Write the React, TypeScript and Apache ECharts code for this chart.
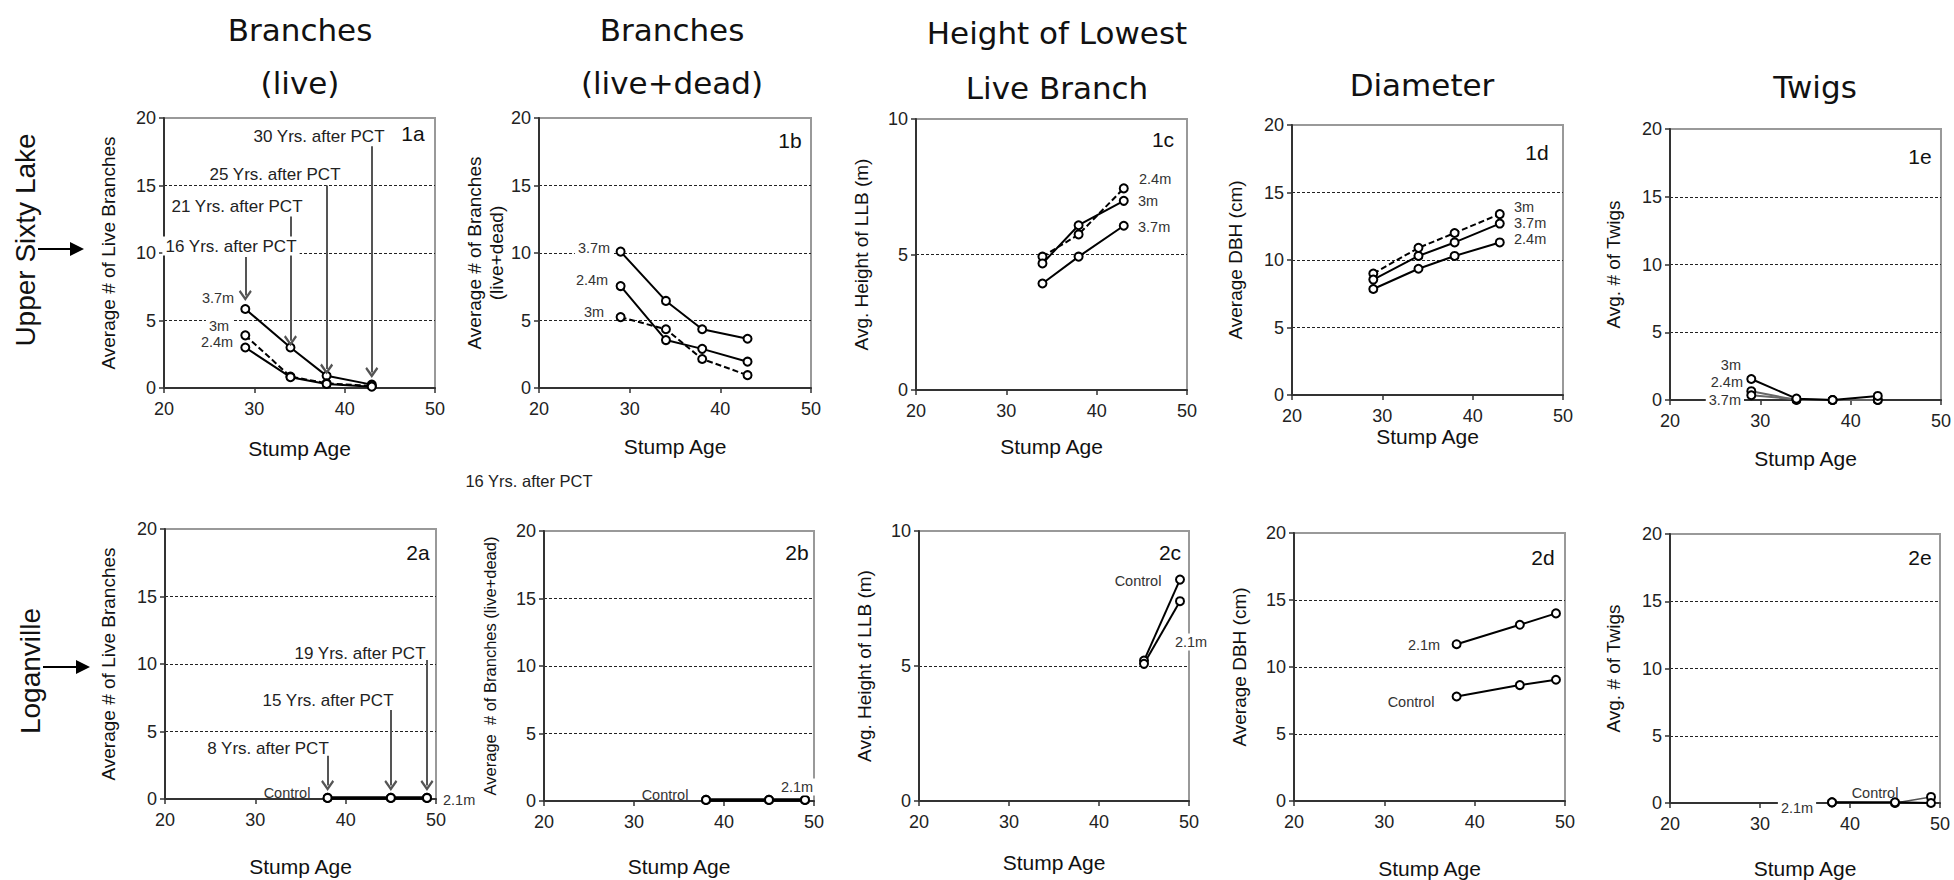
import React, { useEffect, useRef } from 'react';
import * as echarts from 'echarts';

// ---------- data ----------
const ageUSL = [29, 34, 38, 43];
const ageUSL_LLB = [34, 38, 43];
const ageLOG = [38, 45, 49];
const ageLOG_LLB = [45, 49];

const uslLive37 = [5.85, 3.0, 0.9, 0.25];
const uslLive30 = [3.9, 0.85, 0.35, 0.15];
const uslLive24 = [3.0, 0.8, 0.3, 0.1];

const uslTotal37 = [10.1, 6.45, 4.35, 3.65];
const uslTotal24 = [7.55, 3.55, 2.9, 1.95];
const uslTotal30 = [5.25, 4.35, 2.15, 0.95];

const uslLLB30 = [4.92, 5.74, 7.44];
const uslLLB24 = [4.67, 6.08, 6.98];
const uslLLB37 = [3.93, 4.92, 6.06];

const uslDBH30 = [9.0, 10.9, 12.0, 13.4];
const uslDBH37 = [8.55, 10.3, 11.3, 12.7];
const uslDBH24 = [7.85, 9.35, 10.3, 11.3];

const uslTwig30 = [1.55, 0.1, 0.0, 0.3];
const uslTwig24 = [0.65, 0.0, 0.0, 0.0];
const uslTwig37 = [0.35, 0.05, 0.0, 0.0];

const logLiveCtrl = [0.08, 0.08, 0.08];
const logLive21 = [0.08, 0.08, 0.08];
const logTotalCtrl = [0.08, 0.08, 0.08];
const logTotal21 = [0.08, 0.08, 0.08];
const logLLBCtrl = [5.2, 8.2];
const logLLB21 = [5.08, 7.4];
const logDBH21 = [11.7, 13.15, 14.0];
const logDBHCtrl = [7.8, 8.65, 9.05];
const logTwig21 = [0.05, 0.05, 0.0];
const logTwigCtrl = [0.05, 0.0, 0.45];

const pctLabelsUSL = ['16 Yrs. after PCT', '21 Yrs. after PCT', '25 Yrs. after PCT', '30 Yrs. after PCT'];
const pctTopUSL = [9.7, 12.7, 15.0, 17.9];
const pctTipUSL = [6.85, 3.5, 1.4, 1.15];
const pctLabelsLOG = ['8 Yrs. after PCT', '15 Yrs. after PCT', '19 Yrs. after PCT'];
const pctTopLOG = [3.2, 6.6, 10.3];
const pctTipLOG = [1.0, 1.0, 1.0];

const xTicks = { min: 20, max: 50, interval: 10 };

// ---------- styling ----------
const FONT = '"Liberation Sans", Arial, sans-serif';
const TFONT = '"DejaVu Sans", sans-serif';
const CHEVRON = 'path://M8,0 L16,10 L14,12 L8,4.5 L2,12 L0,10 Z';

type S = { name: string; x: number[]; y: number[]; dashed?: boolean; color?: string; width?: number };
type P = {
  grid: { left: number; top: number; width: number; height: number };
  yMax: number; yName: string; yNameGap: number; yNameSize?: number; yNameLH?: number;
  xNameGap: number; series: S[];
  arrows?: { x: number[]; top: number[]; tip: number[] };
};

const panels: P[] = [
  {
    grid: { left: 164, top: 118, width: 271, height: 270 }, yMax: 20,
    yName: 'Average # of Live Branches', yNameGap: 46, xNameGap: 50,
    series: [
      { name: '3.7m', x: ageUSL, y: uslLive37 },
      { name: '3m', x: ageUSL, y: uslLive30, dashed: true },
      { name: '2.4m', x: ageUSL, y: uslLive24 },
    ],
    arrows: { x: ageUSL, top: pctTopUSL, tip: pctTipUSL },
  },
  {
    grid: { left: 539, top: 118, width: 272, height: 270 }, yMax: 20,
    yName: 'Average # of Branches\n(live+dead)', yNameGap: 27, yNameLH: 22, xNameGap: 48,
    series: [
      { name: '3.7m', x: ageUSL, y: uslTotal37 },
      { name: '2.4m', x: ageUSL, y: uslTotal24 },
      { name: '3m', x: ageUSL, y: uslTotal30, dashed: true },
    ],
  },
  {
    grid: { left: 916, top: 119, width: 271, height: 271 }, yMax: 10,
    yName: 'Avg. Height of LLB (m)', yNameGap: 45, xNameGap: 46,
    series: [
      { name: '3m', x: ageUSL_LLB, y: uslLLB30, dashed: true },
      { name: '2.4m', x: ageUSL_LLB, y: uslLLB24 },
      { name: '3.7m', x: ageUSL_LLB, y: uslLLB37 },
    ],
  },
  {
    grid: { left: 1292, top: 125, width: 271, height: 270 }, yMax: 20,
    yName: 'Average DBH (cm)', yNameGap: 47, xNameGap: 31,
    series: [
      { name: '3m', x: ageUSL, y: uslDBH30, dashed: true },
      { name: '3.7m', x: ageUSL, y: uslDBH37 },
      { name: '2.4m', x: ageUSL, y: uslDBH24 },
    ],
  },
  {
    grid: { left: 1670, top: 129, width: 271, height: 271 }, yMax: 20,
    yName: 'Avg. # of Twigs', yNameGap: 47, xNameGap: 48,
    series: [
      { name: '2.4m', x: ageUSL, y: uslTwig24, color: '#666' },
      { name: '3.7m', x: ageUSL, y: uslTwig37, color: '#666' },
      { name: '3m', x: ageUSL, y: uslTwig30 },
    ],
  },
  {
    grid: { left: 165, top: 529, width: 271, height: 270 }, yMax: 20,
    yName: 'Average # of Live Branches', yNameGap: 47, xNameGap: 57,
    series: [
      { name: 'Control', x: ageLOG, y: logLiveCtrl, width: 3 },
      { name: '2.1m', x: ageLOG, y: logLive21, width: 3 },
    ],
    arrows: { x: ageLOG, top: pctTopLOG, tip: pctTipLOG },
  },
  {
    grid: { left: 544, top: 531, width: 270, height: 270 }, yMax: 20,
    yName: 'Average  # of Branches (live+dead)', yNameGap: 46, yNameSize: 16.5, xNameGap: 55,
    series: [
      { name: 'Control', x: ageLOG, y: logTotalCtrl, width: 3 },
      { name: '2.1m', x: ageLOG, y: logTotal21, width: 3 },
    ],
  },
  {
    grid: { left: 919, top: 531, width: 270, height: 270 }, yMax: 10,
    yName: 'Avg. Height of LLB (m)', yNameGap: 45, xNameGap: 51,
    series: [
      { name: 'Control', x: ageLOG_LLB, y: logLLBCtrl },
      { name: '2.1m', x: ageLOG_LLB, y: logLLB21 },
    ],
  },
  {
    grid: { left: 1294, top: 533, width: 271, height: 270 }, yMax: 20,
    yName: 'Average DBH (cm)', yNameGap: 45.5, xNameGap: 57,
    series: [
      { name: '2.1m', x: ageLOG, y: logDBH21 },
      { name: 'Control', x: ageLOG, y: logDBHCtrl },
    ],
  },
  {
    grid: { left: 1670, top: 534, width: 270, height: 270 }, yMax: 20,
    yName: 'Avg. # of Twigs', yNameGap: 47, xNameGap: 55,
    series: [
      { name: 'Control', x: ageLOG, y: logTwigCtrl, color: '#555', width: 1.5 },
      { name: '2.1m', x: ageLOG, y: logTwig21 },
    ],
  },
];

// ---------- text annotations ----------
type T = { t: string; x: number; y: number; size: number; align?: string; bg?: boolean; fam?: string; rot?: number; color?: string };

const texts: T[] = [
  // column titles
  { t: 'Branches', x: 300, y: 30, size: 31, fam: TFONT, color: '#111' },
  { t: '(live)', x: 300, y: 83, size: 31, fam: TFONT, color: '#111' },
  { t: 'Branches', x: 672, y: 30, size: 31, fam: TFONT, color: '#111' },
  { t: '(live+dead)', x: 672, y: 83, size: 31, fam: TFONT, color: '#111' },
  { t: 'Height of Lowest', x: 1057, y: 33, size: 31, fam: TFONT, color: '#111' },
  { t: 'Live Branch', x: 1057, y: 88, size: 31, fam: TFONT, color: '#111' },
  { t: 'Diameter', x: 1422, y: 85, size: 31, fam: TFONT, color: '#111' },
  { t: 'Twigs', x: 1815, y: 87, size: 31, fam: TFONT, color: '#111' },
  // row labels
  { t: 'Upper Sixty Lake', x: 25, y: 240, size: 28, rot: Math.PI / 2, color: '#111' },
  { t: 'Loganville', x: 30, y: 671, size: 28, rot: Math.PI / 2, color: '#111' },
  // panel ids
  { t: '1a', x: 413, y: 133, size: 21, color: '#111' },
  { t: '1b', x: 790, y: 140, size: 21, color: '#111' },
  { t: '1c', x: 1163, y: 139, size: 21, color: '#111' },
  { t: '1d', x: 1537, y: 152, size: 21, color: '#111' },
  { t: '1e', x: 1920, y: 156, size: 21, color: '#111' },
  { t: '2a', x: 418, y: 552, size: 21, color: '#111' },
  { t: '2b', x: 797, y: 552, size: 21, color: '#111' },
  { t: '2c', x: 1170, y: 552, size: 21, color: '#111' },
  { t: '2d', x: 1543, y: 557, size: 21, color: '#111' },
  { t: '2e', x: 1920, y: 557, size: 21, color: '#111' },
  // PCT annotations
  { t: pctLabelsUSL[3], x: 319, y: 136, size: 17 },
  { t: pctLabelsUSL[2], x: 275, y: 174, size: 17 },
  { t: pctLabelsUSL[1], x: 237, y: 206, size: 17 },
  { t: pctLabelsUSL[0], x: 231, y: 246, size: 17, bg: true },
  { t: pctLabelsLOG[0], x: 268, y: 748, size: 17 },
  { t: pctLabelsLOG[1], x: 328, y: 700, size: 17 },
  { t: pctLabelsLOG[2], x: 360, y: 653, size: 17 },
  { t: pctLabelsUSL[0], x: 529, y: 481, size: 16.5 },
  // series labels
  { t: '3.7m', x: 218, y: 298, size: 14.5, color: '#333' },
  { t: '3m', x: 219, y: 326, size: 14.5, color: '#333', bg: true },
  { t: '2.4m', x: 217, y: 342, size: 14.5, color: '#333' },
  { t: '3.7m', x: 594, y: 248, size: 14.5, color: '#333', bg: true },
  { t: '2.4m', x: 592, y: 280, size: 14.5, color: '#333' },
  { t: '3m', x: 594, y: 312, size: 14.5, color: '#333' },
  { t: '2.4m', x: 1139, y: 179, size: 14.5, color: '#333', align: 'left' },
  { t: '3m', x: 1138, y: 201, size: 14.5, color: '#333', align: 'left' },
  { t: '3.7m', x: 1138, y: 227, size: 14.5, color: '#333', align: 'left' },
  { t: '3m', x: 1514, y: 207, size: 14.5, color: '#333', align: 'left' },
  { t: '3.7m', x: 1514, y: 223, size: 14.5, color: '#333', align: 'left' },
  { t: '2.4m', x: 1514, y: 239, size: 14.5, color: '#333', align: 'left' },
  { t: '3m', x: 1741, y: 365, size: 14.5, color: '#333', align: 'right' },
  { t: '2.4m', x: 1743, y: 382, size: 14.5, color: '#333', align: 'right' },
  { t: '3.7m', x: 1744, y: 400, size: 14.5, color: '#333', align: 'right', bg: true },
  { t: 'Control', x: 287, y: 793, size: 14.5, color: '#333' },
  { t: '2.1m', x: 443, y: 800, size: 14.5, color: '#333', align: 'left' },
  { t: 'Control', x: 665, y: 795, size: 14.5, color: '#333' },
  { t: '2.1m', x: 797, y: 787, size: 14.5, color: '#333', bg: true },
  { t: 'Control', x: 1138, y: 581, size: 14.5, color: '#333' },
  { t: '2.1m', x: 1191, y: 642, size: 14.5, color: '#333', bg: true },
  { t: '2.1m', x: 1424, y: 645, size: 14.5, color: '#333' },
  { t: 'Control', x: 1411, y: 702, size: 14.5, color: '#333' },
  { t: 'Control', x: 1875, y: 793, size: 14.5, color: '#333' },
  { t: '2.1m', x: 1797, y: 808, size: 14.5, color: '#333', bg: true },
];

function buildOption() {
  const grid: any[] = [];
  const xAxis: any[] = [];
  const yAxis: any[] = [];
  const series: any[] = [];

  panels.forEach((p, i) => {
    grid.push({ ...p.grid, show: true, borderColor: '#999', borderWidth: 2, backgroundColor: 'transparent' });
    xAxis.push({
      gridIndex: i, type: 'value', ...xTicks,
      axisLine: { show: true, onZero: false, lineStyle: { color: '#333', width: 2 } },
      axisTick: { show: true, length: 5, lineStyle: { color: '#333', width: 1.5 } },
      axisLabel: { fontSize: 18, color: '#222', margin: 12, fontFamily: FONT },
      splitLine: { show: false },
      name: 'Stump Age', nameLocation: 'middle', nameGap: p.xNameGap,
      nameTextStyle: { fontSize: 21, color: '#111', fontFamily: FONT },
    });
    yAxis.push({
      gridIndex: i, type: 'value', min: 0, max: p.yMax, interval: 5,
      axisLine: { show: true, lineStyle: { color: '#333', width: 2 } },
      axisTick: { show: true, length: 5, lineStyle: { color: '#333', width: 1.5 } },
      axisLabel: { fontSize: 18, color: '#222', margin: 8, fontFamily: FONT },
      splitLine: { show: true, showMinLine: false, showMaxLine: false, lineStyle: { type: [3, 2], color: '#222', width: 1 } },
      name: p.yName, nameLocation: 'middle', nameGap: p.yNameGap,
      nameTextStyle: { fontSize: p.yNameSize || 19, color: '#111', fontFamily: FONT, lineHeight: p.yNameLH || undefined },
    });
    p.series.forEach((s, k) => {
      const ser: any = {
        type: 'line', name: s.name, xAxisIndex: i, yAxisIndex: i,
        data: s.x.map((v, j) => [v, s.y[j]]),
        symbol: 'circle', symbolSize: 8,
        itemStyle: { color: '#fff', borderColor: '#000', borderWidth: 2 },
        lineStyle: { color: s.color || '#000', width: s.width || 2, type: s.dashed ? [6, 3] : 'solid' },
        z: 3,
      };
      if (k === 0 && p.arrows) {
        const a = p.arrows;
        ser.markLine = {
          silent: true, animation: false,
          symbol: ['none', CHEVRON], symbolSize: [13, 11],
          lineStyle: { color: '#555', width: 2, type: 'solid' },
          label: { show: false },
          emphasis: { disabled: true },
          data: a.x.map((xv, j) => [{ coord: [xv, a.top[j]] }, { coord: [xv, a.tip[j]] }]),
        };
      }
      series.push(ser);
    });
  });

  const graphic: any[] = texts.map((t) => ({
    type: 'text', x: t.x, y: t.y, rotation: t.rot || 0, z: 100,
    style: {
      text: t.t, fill: t.color || '#222', fontSize: t.size, fontFamily: t.fam || FONT,
      textAlign: t.align || 'center', textVerticalAlign: 'middle',
      align: t.align || 'center', verticalAlign: 'middle',
      backgroundColor: t.bg ? '#fff' : undefined, padding: t.bg ? [1, 3] : undefined,
    },
  }));
  // row arrows
  graphic.push(
    { type: 'line', z: 100, shape: { x1: 38, y1: 249, x2: 72, y2: 249 }, style: { stroke: '#000', lineWidth: 2 } },
    { type: 'polygon', z: 100, shape: { points: [[70, 242], [84, 249], [70, 256]] }, style: { fill: '#000' } },
    { type: 'line', z: 100, shape: { x1: 43, y1: 667, x2: 78, y2: 667 }, style: { stroke: '#000', lineWidth: 2 } },
    { type: 'polygon', z: 100, shape: { points: [[76, 660], [90, 667], [76, 674]] }, style: { fill: '#000' } },
  );

  return {
    animation: false,
    backgroundColor: '#fff',
    textStyle: { fontFamily: FONT },
    grid, xAxis, yAxis, series, graphic,
  };
}

export default function App() {
  const ref = useRef<HTMLDivElement>(null);
  useEffect(() => {
    if (!ref.current) return;
    const chart = echarts.init(ref.current, undefined, { renderer: 'svg' });
    chart.setOption(buildOption() as any);
    return () => chart.dispose();
  }, []);
  return (
    <div
      ref={ref}
      style={{ position: 'absolute', left: 0, top: 0, width: 1954, height: 880, background: '#fff' }}
    />
  );
}
